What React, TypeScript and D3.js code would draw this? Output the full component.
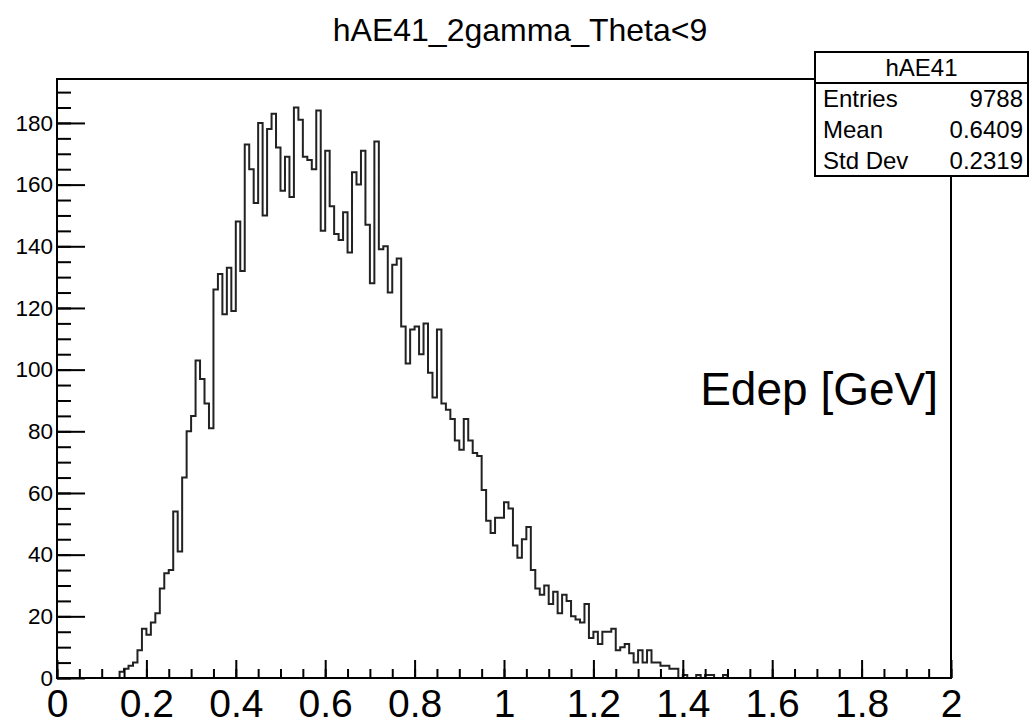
import React, { useEffect, useRef } from 'react';
import * as d3 from 'd3';

const title = "hAE41_2gamma_Theta<9";
const xTitle = "Edep [GeV]";

// histogram binning: 200 bins from 0 to 2, counts listed from bin 14 on
const nBins = 200;
const xMin = 0;
const xMax = 2;
const firstBin = 14;
const counts = [
  2, 3, 4, 5, 9, 16, 14, 18, 21, 29, 34, 35, 54, 41, 65, 80, 85,
  103, 97, 89, 81, 126, 131, 118, 133, 119, 148,
  132, 173, 165, 154, 180, 150, 178, 183, 172, 158,
  169, 156, 185, 181, 169, 168, 165, 184, 145, 171,
  153, 144, 142, 151, 138, 164, 160, 171, 147, 128,
  174, 139, 140, 125, 134, 136, 114, 102, 113, 114,
  105, 115, 99, 91, 113, 89, 87, 84, 77, 74,
  84, 77, 73, 72, 61, 51, 47, 52, 52, 57,
  55, 43, 39, 45, 49, 35, 29, 27, 30, 24,
  28, 21, 27, 25, 20, 19, 18, 24, 13, 15,
  11, 15, 15, 16, 9, 10, 11, 8, 5, 9,
  5, 9, 5, 5, 4, 4, 3, 3, 0, 1,
  0, 0, 1, 0, 1, 1, 0, 0, 1
];

const xMajorTicks = [0, 0.2, 0.4, 0.6, 0.8, 1, 1.2, 1.4, 1.6, 1.8, 2];
const yMajorTicks = [0, 20, 40, 60, 80, 100, 120, 140, 160, 180];

const statsName = "hAE41";
const statsLabels = ["Entries", "Mean", "Std Dev"];
const statsValues = ["9788", "0.6409", "0.2319"];

const W = 1032;
const H = 720;
const font = "'Liberation Sans', Arial, Helvetica, sans-serif";

const App = () => {
  const ref = useRef(null);

  useEffect(() => {
    const m = { left: 57, right: 81, top: 79, bottom: 42 };
    const x0 = m.left, x1 = W - m.right, y0 = H - m.bottom, y1 = m.top;

    const full = new Array(nBins).fill(0);
    counts.forEach((c, i) => { full[firstBin + i] = c; });
    const binW = (xMax - xMin) / nBins;
    const yMax = d3.max(full) * 1.05;

    const x = d3.scaleLinear().domain([xMin, xMax]).range([x0, x1]);
    const y = d3.scaleLinear().domain([0, yMax]).range([y0, y1]);

    const svg = d3.create("svg")
      .attr("width", W)
      .attr("height", H)
      .attr("viewBox", [0, 0, W, H])
      .style("display", "block")
      .style("background", "white");

    // histogram outline
    const pts = [[xMin, 0]];
    full.forEach((c, i) => {
      pts.push([xMin + i * binW, c]);
      pts.push([xMin + (i + 1) * binW, c]);
    });
    pts.push([xMax, 0]);
    svg.append("path")
      .attr("d", d3.line().x(d => x(d[0])).y(d => y(d[1]))(pts))
      .attr("fill", "none")
      .attr("stroke", "#222")
      .attr("stroke-width", 2);

    // y axis, ticks pointing into the frame
    const yMinor = d3.range(0, yMax, 5);
    svg.append("g")
      .attr("transform", `translate(${x0},0)`)
      .call(d3.axisLeft(y).tickValues(yMinor).tickSize(-14).tickSizeOuter(0).tickFormat(() => ""))
      .call(g => g.select(".domain").remove());
    svg.append("g")
      .attr("transform", `translate(${x0},0)`)
      .call(d3.axisLeft(y).tickValues(yMajorTicks).tickSize(-28).tickSizeOuter(0).tickPadding(4))
      .call(g => g.select(".domain").remove())
      .call(g => g.selectAll("text").attr("font-size", 22.5).attr("font-family", font).attr("fill", "#000"));

    // x axis
    const xMinor = d3.range(0, 41).map(i => i * 0.05);
    svg.append("g")
      .attr("transform", `translate(0,${y0})`)
      .call(d3.axisBottom(x).tickValues(xMinor).tickSize(-9).tickSizeOuter(0).tickFormat(() => ""))
      .call(g => g.select(".domain").remove());
    svg.append("g")
      .attr("transform", `translate(0,${y0})`)
      .call(d3.axisBottom(x).tickValues(xMajorTicks).tickSize(-18).tickSizeOuter(0).tickPadding(11).tickFormat(d3.format("")))
      .call(g => g.select(".domain").remove())
      .call(g => g.selectAll("text").attr("font-size", 39).attr("font-family", font).attr("fill", "#000"));

    svg.selectAll(".tick line").attr("stroke", "#000").attr("stroke-width", 2);

    // frame
    svg.append("rect")
      .attr("x", x0).attr("y", y1)
      .attr("width", x1 - x0).attr("height", y0 - y1)
      .attr("fill", "none").attr("stroke", "#000").attr("stroke-width", 2);

    // title
    svg.append("text")
      .attr("x", 520).attr("y", 41)
      .attr("text-anchor", "middle")
      .attr("font-family", font).attr("font-size", 32)
      .text(title);

    // axis title, drawn inside the frame as in the original
    svg.append("text")
      .attr("x", 938).attr("y", 405)
      .attr("text-anchor", "end")
      .attr("font-family", font).attr("font-size", 46)
      .text(xTitle);

    // stats box
    const bx = 815, by = 52, bw = 213, rowH = 31;
    const stats = svg.append("g").attr("font-family", font).attr("font-size", 24);
    stats.append("rect")
      .attr("x", bx).attr("y", by).attr("width", bw).attr("height", rowH * 4)
      .attr("fill", "white").attr("stroke", "#000").attr("stroke-width", 2);
    stats.append("line")
      .attr("x1", bx).attr("x2", bx + bw)
      .attr("y1", by + rowH).attr("y2", by + rowH)
      .attr("stroke", "#000").attr("stroke-width", 2);
    stats.append("text")
      .attr("x", bx + bw / 2).attr("y", by + rowH / 2 + 8.5)
      .attr("text-anchor", "middle")
      .text(statsName);
    statsLabels.forEach((lab, i) => {
      const ty = by + rowH * (i + 1.5) + 8.5;
      stats.append("text").attr("x", bx + 8).attr("y", ty).text(lab);
      stats.append("text").attr("x", bx + bw - 5).attr("y", ty)
        .attr("text-anchor", "end").text(statsValues[i]);
    });

    ref.current.innerHTML = '';
    ref.current.appendChild(svg.node());
  }, []);

  return <div ref={ref} style={{ position: 'absolute', left: 0, top: 0, width: W, height: H }}></div>;
};

export default App;
